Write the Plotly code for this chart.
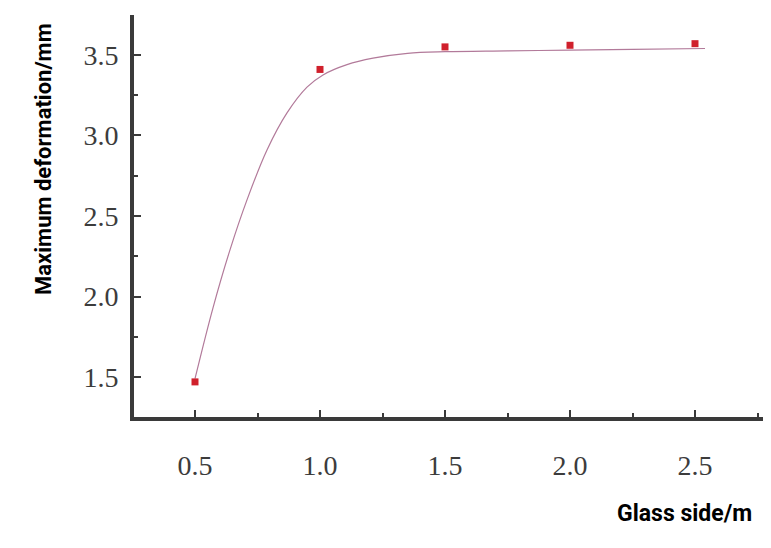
import plotly.graph_objects as go

# measured points
side = [0.5, 1.0, 1.5, 2.0, 2.5]
deform = [1.47, 3.41, 3.55, 3.56, 3.57]

# fitted curve
curve_x = [0.5, 0.572, 0.64, 0.708, 0.788, 0.868, 0.948, 1.012, 1.108, 1.212, 1.35, 1.5, 1.75, 2.0, 2.25, 2.54]
curve_y = [1.49, 1.93, 2.29, 2.60, 2.91, 3.14, 3.30, 3.376, 3.44, 3.48, 3.51, 3.52, 3.525, 3.53, 3.535, 3.54]

xticks = [0.5, 1.0, 1.5, 2.0, 2.5]
yticks = [1.5, 2.0, 2.5, 3.0, 3.5]

fig = go.Figure()
fig.add_trace(go.Scatter(x=curve_x, y=curve_y, mode="lines", line=dict(color="#b27a9a", width=1.2, shape="spline"),
                         showlegend=False))
fig.add_trace(go.Scatter(x=side, y=deform, mode="markers", marker=dict(symbol="square", size=7, color="#d0202c"),
                         showlegend=False))

axis_common = dict(showgrid=False, zeroline=False, showline=True, linecolor="#3a3a3a", linewidth=4,
                   ticks="inside", tickcolor="#3a3a3a", ticklen=7, tickwidth=2,
                   tickfont=dict(family="Liberation Serif", size=28, color="#3c3c3c"),
                   minor=dict(ticks="inside", ticklen=4, tickwidth=2, tickcolor="#3a3a3a"))

fig.update_xaxes(range=[0.256, 2.772], tickvals=xticks, ticktext=["0.5", "1.0", "1.5", "2.0", "2.5"],
                 ticklabelstandoff=20, minor_dtick=0.25, **axis_common)
fig.update_yaxes(range=[1.252, 3.748], tickvals=yticks, ticktext=["1.5", "2.0", "2.5", "3.0", "3.5"],
                 ticklabelstandoff=6, minor_dtick=0.25, **axis_common)

# page has an 8px body margin, so the figure is 8px smaller than the window
fig.add_annotation(text="<b>Glass side/m</b>", xref="paper", yref="paper", x=0.985, y=-0.24,
                   xanchor="right", yanchor="middle", showarrow=False,
                   font=dict(family="Roboto", size=23, color="black"))
fig.add_annotation(text="<b>Maximum deformation/mm</b>", xref="paper", yref="paper", x=-0.143, y=0.642,
                   xanchor="center", yanchor="middle", textangle=-90, showarrow=False,
                   font=dict(family="Roboto", size=22, color="black"))

fig.update_layout(width=763, height=540, margin=dict(l=126, r=8, t=7, b=131),
                  plot_bgcolor="white", paper_bgcolor="white")

fig.write_html("out.html")
